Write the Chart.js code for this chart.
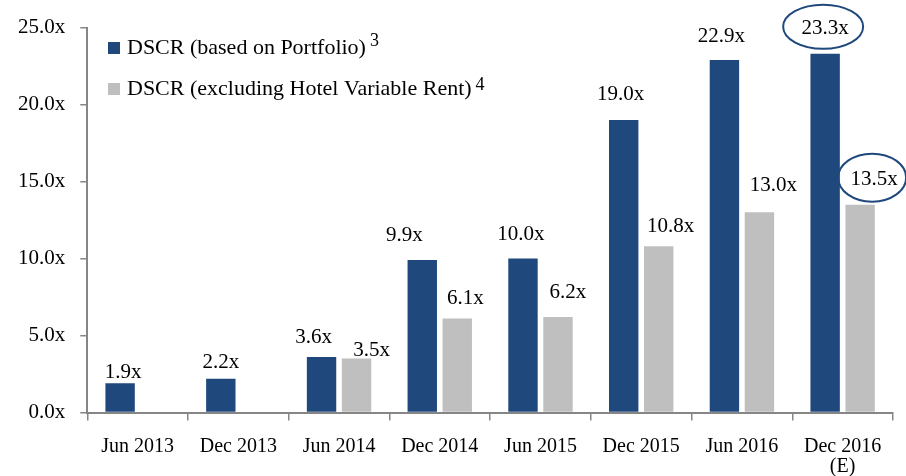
<!DOCTYPE html>
<html>
<head>
<meta charset="utf-8">
<script src="https://cdn.jsdelivr.net/npm/chart.js@4.4.0/dist/chart.umd.min.js"></script>
<style>
  html, body { margin: 0; padding: 0; background: #fff; }
  #dscrChart { display: block; }
</style>
</head>
<body>
<canvas id="dscrChart" width="906" height="476"></canvas>
<script>
// Periodos del eje X
const categories = ['Jun 2013', 'Dec 2013', 'Jun 2014', 'Dec 2014', 'Jun 2015', 'Dec 2015', 'Jun 2016', ['Dec 2016', '(E)']];
// DSCR por periodo
const portfolioDscr = [1.9, 2.2, 3.6, 9.9, 10.0, 19.0, 22.9, 23.3];
const exHotelDscr = [null, null, 3.5, 6.1, 6.2, 10.8, 13.0, 13.5];
const seriesNames = ['DSCR (based on Portfolio)', 'DSCR (excluding Hotel Variable Rent)'];
const seriesNotes = ['3', '4'];

const FONT = '"Liberation Serif", "Times New Roman", serif';
const BLUE = '#1f497d';
const GREY = '#bfbfbf';
const AXIS = '#868686';

// Desplazamiento de cada etiqueta respecto a la parte superior de su barra [dx, dy]
const labelShift = [
    [[3, -11], [0, -16], [-8, -20], [-18, -25], [-2, -24], [-3, -25], [-3, -23], [0, -25]],
    [null, null, [15, -8], [8, -20], [10, -25], [12, -20], [14, -27], [14, -25]]
];
// Etiquetas rodeadas por una elipse: dataset, índice, radios
const circled = [
    { ds: 0, i: 7, rx: 40, ry: 22 },
    { ds: 1, i: 7, rx: 34, ry: 24 }
];

function labelPos(chart, ds, i) {
    const bar = chart.getDatasetMeta(ds).data[i];
    const s = labelShift[ds][i] || [0, -18];
    return { x: bar.x + s[0], y: bar.y + s[1] };
}

// Valores encima de las barras
const valueLabels = {
    id: 'valueLabels',
    afterDatasetsDraw(chart) {
        const ctx = chart.ctx;
        ctx.save();
        ctx.font = '21px ' + FONT;
        ctx.fillStyle = '#000';
        ctx.textAlign = 'center';
        ctx.textBaseline = 'middle';
        chart.data.datasets.forEach((d, ds) => {
            d.data.forEach((v, i) => {
                if (v === null) return;
                const p = labelPos(chart, ds, i);
                ctx.fillText(v.toFixed(1) + 'x', p.x, p.y);
            });
        });
        ctx.strokeStyle = BLUE;
        ctx.lineWidth = 2;
        circled.forEach(c => {
            const p = labelPos(chart, c.ds, c.i);
            ctx.beginPath();
            ctx.ellipse(p.x - 2, p.y - 2, c.rx, c.ry, 0, 0, Math.PI * 2);
            ctx.stroke();
        });
        ctx.restore();
    }
};

// Leyenda dentro del área del gráfico, con notas en superíndice
const insideLegend = {
    id: 'insideLegend',
    afterDraw(chart) {
        const ctx = chart.ctx;
        ctx.save();
        ctx.textBaseline = 'middle';
        ctx.textAlign = 'left';
        const rows = [48, 89];
        chart.data.datasets.forEach((d, k) => {
            const y = rows[k];
            ctx.fillStyle = d.backgroundColor;
            ctx.fillRect(108, y - 6, 12, 12);
            ctx.fillStyle = '#000';
            ctx.font = '22px ' + FONT;
            ctx.fillText(d.label, 127, y);
            const w = ctx.measureText(d.label).width;
            ctx.font = '18px ' + FONT;
            ctx.fillText(seriesNotes[k], 127 + w + 4, y - (k === 0 ? 7 : 4));
        });
        ctx.restore();
    }
};

const ctx = document.getElementById('dscrChart').getContext('2d');
new Chart(ctx, {
    type: 'bar',
    data: {
        labels: categories,
        datasets: [{
            label: seriesNames[0],
            data: portfolioDscr,
            backgroundColor: BLUE,
            categoryPercentage: 0.695,
            barPercentage: 0.84
        }, {
            label: seriesNames[1],
            data: exHotelDscr,
            backgroundColor: GREY,
            categoryPercentage: 0.695,
            barPercentage: 0.84
        }]
    },
    options: {
        responsive: false,
        animation: false,
        layout: { padding: { top: 24, right: 13, left: 3, bottom: 0 } },
        plugins: {
            legend: { display: false },
            tooltip: { enabled: false }
        },
        scales: {
            x: {
                grid: { drawOnChartArea: false, drawTicks: true, tickLength: 8, color: AXIS, lineWidth: 1.5 },
                border: { color: AXIS, width: 2 },
                ticks: {
                    color: '#000',
                    padding: 16,
                    maxRotation: 0,
                    font: { family: FONT, size: 20, lineHeight: 1.0 }
                },
                afterFit(scale) {
                    scale.height = 63.5;
                }
            },
            y: {
                min: 0,
                max: 25,
                grid: { drawOnChartArea: false, drawTicks: true, tickLength: 7, color: AXIS, lineWidth: 1.5 },
                border: { color: AXIS, width: 2 },
                ticks: {
                    stepSize: 5,
                    color: '#000',
                    padding: 15,
                    font: { family: FONT, size: 21 },
                    callback: v => v.toFixed(1) + 'x'
                }
            }
        }
    },
    plugins: [valueLabels, insideLegend]
});
</script>
</body>
</html>
